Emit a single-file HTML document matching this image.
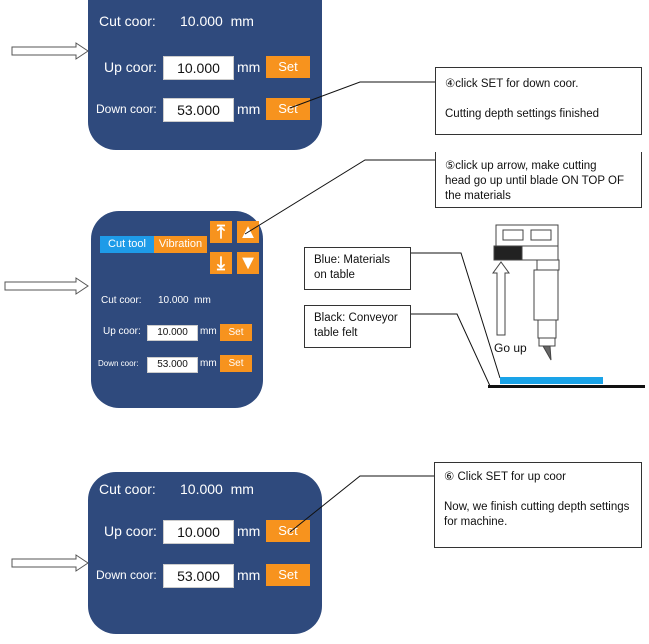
<!DOCTYPE html>
<html><head><meta charset="utf-8"><style>
body{margin:0;width:649px;height:644px;background:#fff;position:relative;overflow:hidden;font-family:"Liberation Sans",sans-serif}
.a{position:absolute}
.p{position:absolute;background:#2f4a7d}
.t{position:absolute;color:#fff;white-space:nowrap}
.in{position:absolute;background:#fff;color:#111;text-align:center;border:1px solid #ccc;box-sizing:border-box}
.b{position:absolute;background:#f7931e;color:#fff;text-align:center;box-sizing:border-box}
.box{position:absolute;border:1px solid #333;background:#fff;font-size:11.5px;color:#111;box-sizing:border-box;padding:4px 10px 4px 9px;line-height:15px}
</style></head><body>
<div class="p" style="left:88px;top:0;width:234px;height:150px;border-radius:0 0 28px 28px"></div>
<div class="t" style="left:99px;top:13px;font-size:14px">Cut coor:</div>
<div class="t" style="left:180px;top:13px;font-size:14px">10.000 &nbsp;mm</div>
<div class="t" style="left:104px;top:59px;font-size:14px">Up coor:</div>
<div class="in" style="left:163px;top:56px;width:71px;height:24px;font-size:14px;line-height:22px">10.000</div>
<div class="t" style="left:237px;top:59px;font-size:14px">mm</div>
<div class="b" style="left:266px;top:56px;width:44px;height:22px;font-size:13px;line-height:22px">Set</div>
<div class="t" style="left:96px;top:102px;font-size:12px">Down coor:</div>
<div class="in" style="left:163px;top:98px;width:71px;height:24px;font-size:14px;line-height:22px">53.000</div>
<div class="t" style="left:237px;top:101px;font-size:14px">mm</div>
<div class="b" style="left:266px;top:98px;width:44px;height:22px;font-size:13px;line-height:22px">Set</div>

<div class="p" style="left:91px;top:211px;width:172px;height:197px;border-radius:28px"></div>
<div class="b" style="left:100px;top:236px;width:54px;height:17px;background:#1e9be8;font-size:11px;line-height:17px">Cut tool</div>
<div class="b" style="left:154px;top:236px;width:53px;height:17px;font-size:11px;line-height:17px">Vibration</div>
<div class="b" style="left:210px;top:221px;width:22px;height:22px;font-size:18px;line-height:22px;font-weight:bold">⤒</div>
<div class="b" style="left:237px;top:221px;width:22px;height:22px;font-size:20px;line-height:22px">▲</div>
<div class="b" style="left:210px;top:252px;width:22px;height:22px;font-size:18px;line-height:22px;font-weight:bold">⤓</div>
<div class="b" style="left:237px;top:252px;width:22px;height:22px;font-size:20px;line-height:22px">▼</div>
<div class="t" style="left:101px;top:295px;font-size:10px">Cut coor:</div>
<div class="t" style="left:158px;top:295px;font-size:10px">10.000 &nbsp;mm</div>
<div class="t" style="left:103px;top:326px;font-size:10px">Up coor:</div>
<div class="in" style="left:147px;top:325px;width:51px;height:16px;font-size:10px;line-height:14px">10.000</div>
<div class="t" style="left:200px;top:326px;font-size:10px">mm</div>
<div class="b" style="left:220px;top:324px;width:32px;height:17px;font-size:10px;line-height:17px">Set</div>
<div class="t" style="left:98px;top:359px;font-size:8px">Down coor:</div>
<div class="in" style="left:147px;top:357px;width:51px;height:16px;font-size:10px;line-height:14px">53.000</div>
<div class="t" style="left:200px;top:358px;font-size:10px">mm</div>
<div class="b" style="left:220px;top:355px;width:32px;height:17px;font-size:10px;line-height:17px">Set</div>

<div class="p" style="left:88px;top:472px;width:234px;height:162px;border-radius:28px"></div>
<div class="t" style="left:99px;top:481px;font-size:14px">Cut coor:</div>
<div class="t" style="left:180px;top:481px;font-size:14px">10.000 &nbsp;mm</div>
<div class="t" style="left:104px;top:523px;font-size:14px">Up coor:</div>
<div class="in" style="left:163px;top:520px;width:71px;height:24px;font-size:14px;line-height:22px">10.000</div>
<div class="t" style="left:237px;top:523px;font-size:14px">mm</div>
<div class="b" style="left:266px;top:520px;width:44px;height:22px;font-size:13px;line-height:22px">Set</div>
<div class="t" style="left:96px;top:568px;font-size:12px">Down coor:</div>
<div class="in" style="left:163px;top:564px;width:71px;height:24px;font-size:14px;line-height:22px">53.000</div>
<div class="t" style="left:237px;top:567px;font-size:14px">mm</div>
<div class="b" style="left:266px;top:564px;width:44px;height:22px;font-size:13px;line-height:22px">Set</div>

<div class="box" style="left:435px;top:67px;width:207px;height:68px;padding-top:9px">④click SET for down coor.<br><br>Cutting depth settings finished</div>
<div class="box" style="left:435px;top:152px;width:207px;height:56px;border-top:none;padding-top:7px">⑤click up arrow, make cutting<br>head go up until blade ON TOP OF<br>the materials</div>
<div class="box" style="left:434px;top:462px;width:208px;height:86px;padding-top:7px">⑥ Click SET for up coor<br><br>Now, we finish cutting depth settings for machine.</div>
<div class="box" style="left:304px;top:247px;width:107px;height:43px;padding-top:5px">Blue: Materials on table</div>
<div class="box" style="left:304px;top:305px;width:107px;height:43px;padding-top:5px">Black: Conveyor table felt</div>

<svg class="a" style="left:0;top:0" width="649" height="644">
<g fill="#fff" stroke="#555" stroke-width="1">
<path d="M12 47 H76 V43 L88 51 L76 59 V55 H12 Z"/>
<path d="M5 282 H76 V278 L88 286 L76 294 V290 H5 Z"/>
<path d="M12 559 H76 V555 L88 563 L76 571 V567 H12 Z"/>
</g>
<g stroke="#111" stroke-width="1" fill="none">
<path d="M290 108 L360 82 H435"/>
<path d="M245 234 L365 160 H435"/>
<path d="M290 532 L360 476 H434"/>
<path d="M411 253 H461 L500 378"/>
<path d="M411 314 H457 L490 386"/>
</g>
<rect x="500" y="377" width="103" height="7" fill="#1aa3e8"/>
<rect x="488" y="385" width="157" height="3" fill="#111"/>
<g stroke="#444" fill="#fff" stroke-width="1">
<rect x="496" y="225" width="62" height="23"/>
<rect x="503" y="230" width="20" height="10"/>
<rect x="531" y="230" width="20" height="10"/>
<rect x="494" y="246" width="28" height="14" fill="#222"/>
<rect x="522" y="246" width="36" height="14"/>
<rect x="537" y="260" width="22" height="10"/>
<rect x="534" y="270" width="24" height="50"/>
<rect x="538" y="320" width="18" height="18"/>
<rect x="539" y="338" width="16" height="8"/>
<path d="M543 346 L550 346 L551 360 Z" fill="#666"/>
<path d="M497 335 V273 H493 L501 262 L509 273 H505 V335 Z"/>
</g>
<text x="494" y="352" font-size="12" font-family="Liberation Sans" fill="#111">Go up</text>
</svg>
</body></html>
